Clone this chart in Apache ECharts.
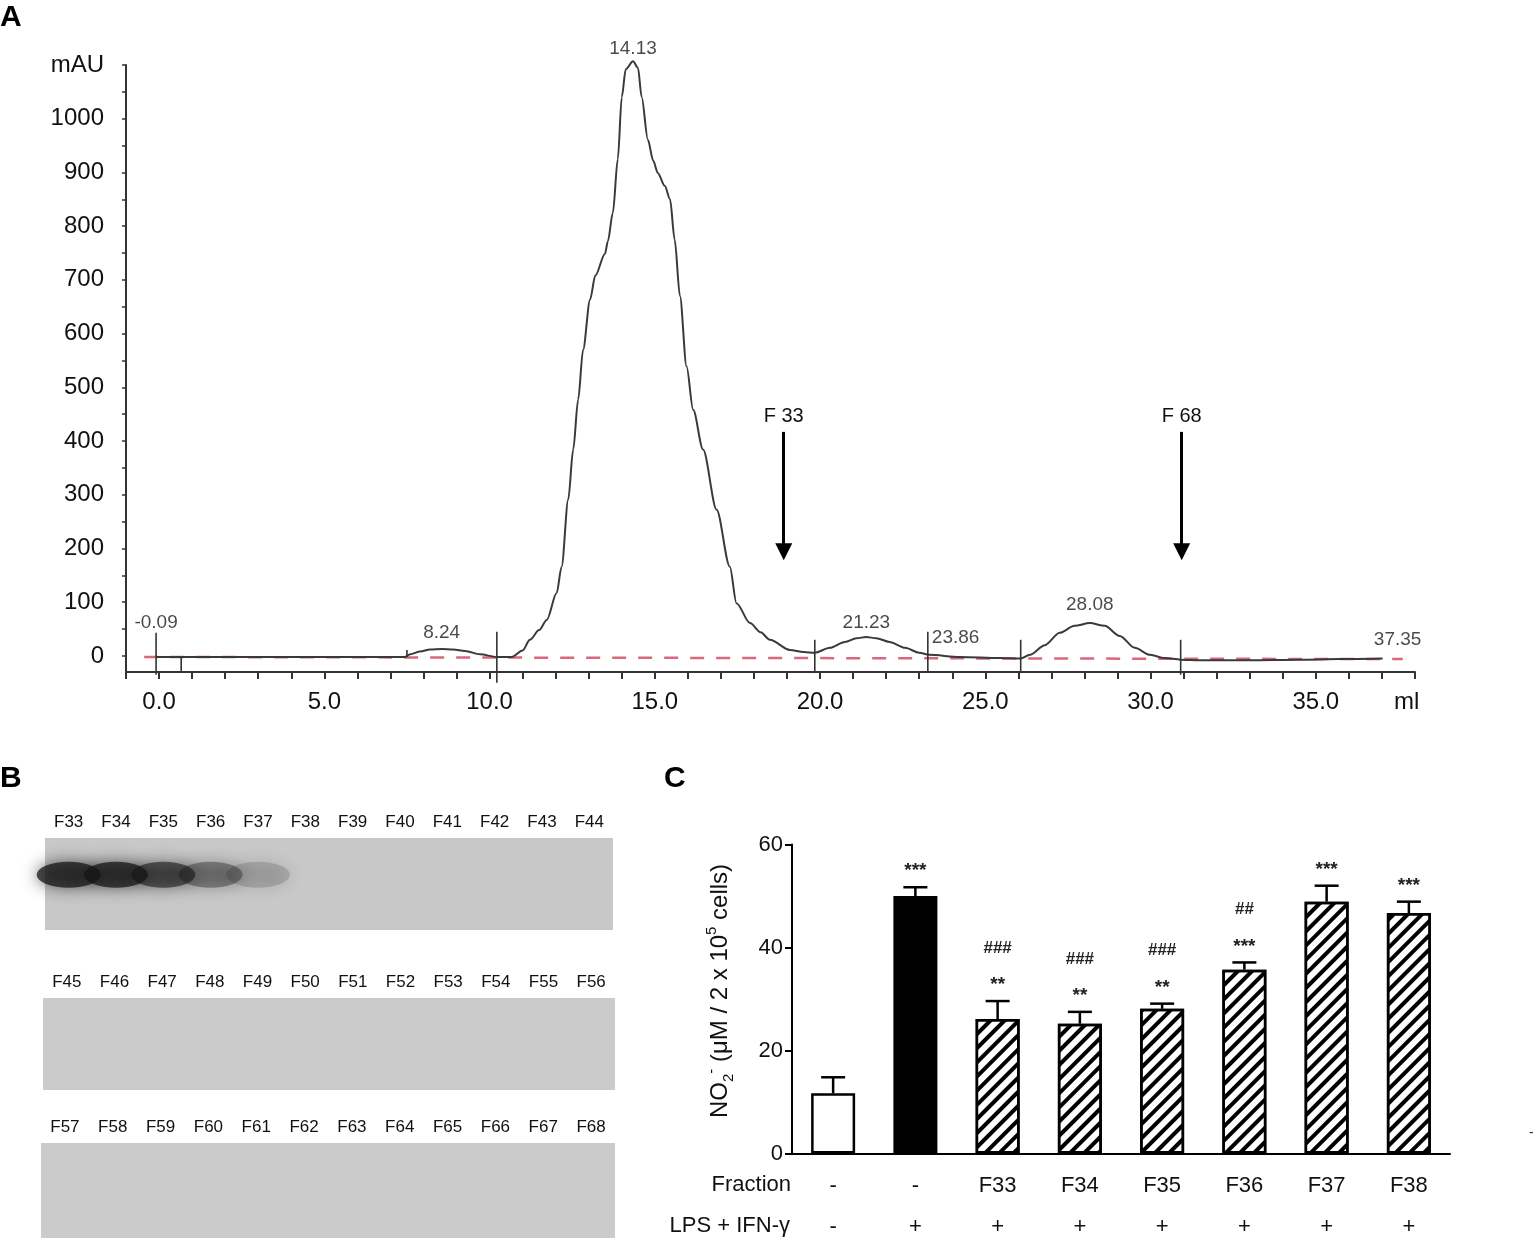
<!DOCTYPE html>
<html>
<head>
<meta charset="utf-8">
<script src="https://cdn.jsdelivr.net/npm/echarts@6/dist/echarts.min.js"></script>
<style>
  html, body { margin: 0; padding: 0; background: #fff; }
  #main { width: 1536px; height: 1244px; }
</style>
</head>
<body>
<div id="main"></div>
<script>
// ---- Panel A: chromatogram (ml vs mAU) ----
const elutionMl = [-0.09, 0.67, 3.0, 5.5, 7.44, 7.6, 7.9, 8.2, 8.55, 8.9, 9.26, 9.71, 10.22, 10.67, 11.0,
  11.22, 11.5, 11.73, 12.03, 12.18, 12.38, 12.53, 12.68, 12.83, 13.04, 13.2, 13.49, 13.58, 13.73, 13.88,
  14.0, 14.12, 14.34, 14.49, 14.6, 14.79, 14.95, 15.09, 15.3, 15.46, 15.6, 15.76, 15.96, 16.16, 16.46,
  16.87, 17.27, 17.47, 17.88, 18.2, 18.48, 19.09, 19.5, 19.84, 20.3, 20.75, 21.1, 21.4, 21.7, 22.1,
  22.57, 23.0, 23.3, 24.23, 25.44, 26.07, 26.35, 26.8, 27.25, 27.7, 28.16, 28.61, 29.07, 29.52, 29.98,
  30.43, 30.91, 31.49, 33.0, 34.5, 35.72, 37.02];
const absorbance = [-2, -2, -2, -2, -2, 3, 8, 12, 13, 12, 9, 3, -2, -2, 10,
  30, 48, 67, 117, 166, 291, 384, 477, 570, 663, 708, 748, 772, 825, 925,
  1040, 1092, 1107, 1095, 1041, 961, 922, 899, 875, 850, 775, 670, 539, 458, 384,
  272, 166, 98, 61, 44, 30, 11, 7, 6, 15, 26, 33, 35, 33, 26,
  15, 6, 2, -2, -4, -5, 2, 20, 43, 56, 61, 56, 37, 15, 2,
  -4, -7, -8, -8, -7, -6, -5];
const baselineMl = [-0.45, 37.63];
const baselineAU = [-2, -6];

// fraction boundary ticks: position, top, bottom (mAU)
const cutMl = [-0.09, 0.67, 7.5, 10.22, 19.84, 23.26, 26.07, 30.91];
const cutTop = [43, -2, 11, 45, 30, 45, 30, 30];
const cutBottom = [-35, -32, -2, -50, -32, -32, -32, -35];

// peak annotations
const peakNames = ['-0.09', '8.24', '14.13', '21.23', '23.86', '28.08', '37.35'];
const peakMl = [-0.09, 8.55, 14.34, 21.4, 23.26, 28.16, 37.02];
const peakAU = [43, 13, 1107, 35, 45, 61, -4];

// collected fraction arrows
const arrowNames = ['F 33', 'F 68'];
const arrowMl = [18.9, 30.94];
const arrowFrom = 417;
const arrowTo = 194;

const yTicksA = [0, 100, 200, 300, 400, 500, 600, 700, 800, 900, 1000, 1100];

// ---- Panel B: blot strips ----
const laneRow1 = ['F33', 'F34', 'F35', 'F36', 'F37', 'F38', 'F39', 'F40', 'F41', 'F42', 'F43', 'F44'];
const laneRow2 = ['F45', 'F46', 'F47', 'F48', 'F49', 'F50', 'F51', 'F52', 'F53', 'F54', 'F55', 'F56'];
const laneRow3 = ['F57', 'F58', 'F59', 'F60', 'F61', 'F62', 'F63', 'F64', 'F65', 'F66', 'F67', 'F68'];
const band1 = [1.0, 1.0, 0.78, 0.45, 0.16, 0, 0, 0, 0, 0, 0, 0];
const band2 = [0, 0, 0, 0, 0, 0, 0, 0, 0, 0, 0, 0];
const band3 = [0, 0, 0, 0, 0, 0, 0, 0, 0, 0, 0, 0];

// ---- Panel C: NO2- production ----
const groups = ['Medium', 'LPS + IFN-γ', 'F33', 'F34', 'F35', 'F36', 'F37', 'F38'];
const fractionRow = ['-', '-', 'F33', 'F34', 'F35', 'F36', 'F37', 'F38'];
const lpsRow = ['-', '+', '+', '+', '+', '+', '+', '+'];
const no2Mean = [11.7, 50.0, 26.1, 25.2, 28.1, 35.7, 48.9, 46.7];
const no2Sem = [3.1, 1.7, 3.5, 2.3, 1.0, 1.4, 3.1, 2.2];
const starMarks = ['', '***', '**', '**', '**', '***', '***', '***'];
const hashMarks = ['', '', '###', '###', '###', '##', '', ''];

const FONT = '"Liberation Sans", Arial, sans-serif';
const chart = echarts.init(document.getElementById('main'));

const peakLabelStyle = [
  { position: 'top', distance: 1 },
  { position: 'top', distance: 7 },
  { position: 'top', distance: 3 },
  { position: 'top', distance: 5 },
  { position: 'right', distance: 4, offset: [0, 6] },
  { position: 'top', distance: 9 },
  { position: 'top', distance: 9, offset: [15, 0] }
];

function bandSeries(idx, bands) {
  return {
    type: 'scatter',
    xAxisIndex: idx, yAxisIndex: idx,
    silent: true,
    symbol: 'circle',
    symbolSize: [64, 26],
    data: bands.map((v, i) => [i, 0.6, v]).filter(d => d[2] > 0),
    itemStyle: {
      color: p => 'rgba(20,20,20,' + (0.06 + 0.86 * p.value[2]) + ')',
      shadowBlur: 16,
      shadowColor: 'rgba(20,20,20,0.85)'
    }
  };
}

const hatch = {
  symbol: 'rect', symbolSize: 1,
  dashArrayX: [1, 0], dashArrayY: [3.2, 6],
  rotation: -Math.PI / 4,
  color: '#000'
};

const option = {
  animation: false,
  backgroundColor: '#fff',
  textStyle: { fontFamily: FONT },
  grid: [
    { left: 126, top: 65, width: 1289, height: 607 },
    { left: 45, top: 838, width: 568, height: 92, show: true, backgroundColor: '#c8c8c8', borderWidth: 0 },
    { left: 43, top: 998, width: 572, height: 92, show: true, backgroundColor: '#cbcbcb', borderWidth: 0 },
    { left: 41, top: 1143, width: 574, height: 95, show: true, backgroundColor: '#cbcbcb', borderWidth: 0 },
    { left: 792, top: 844.5, width: 658, height: 309 }
  ],
  xAxis: [
    {
      type: 'value', gridIndex: 0, min: -1, max: 38, interval: 1,
      axisLine: { onZero: false, lineStyle: { color: '#333', width: 2 } },
      axisTick: { length: 7, lineStyle: { color: '#333', width: 2 } },
      axisLabel: {
        formatter: v => (v >= 0 && v % 5 === 0) ? v.toFixed(1) : '',
        fontSize: 24, color: '#111', margin: 18
      },
      splitLine: { show: false }
    },
    { type: 'category', gridIndex: 1, position: 'top', data: laneRow1,
      axisLine: { show: false }, axisTick: { show: false },
      axisLabel: { fontSize: 17, color: '#111', margin: 7 } },
    { type: 'category', gridIndex: 2, position: 'top', data: laneRow2,
      axisLine: { show: false }, axisTick: { show: false },
      axisLabel: { fontSize: 17, color: '#111', margin: 7 } },
    { type: 'category', gridIndex: 3, position: 'top', data: laneRow3,
      axisLine: { show: false }, axisTick: { show: false },
      axisLabel: { fontSize: 17, color: '#111', margin: 7 } },
    {
      type: 'category', gridIndex: 4, data: groups,
      axisLine: { lineStyle: { color: '#000', width: 2 } },
      axisTick: { alignWithLabel: true, length: 6, lineStyle: { color: '#000', width: 2 } },
      axisLabel: {
        margin: 12, interval: 0,
        formatter: (v, i) => '{a|' + fractionRow[i] + '}\n{b|' + lpsRow[i] + '}',
        rich: {
          a: { fontSize: 22, lineHeight: 41, color: '#111' },
          b: { fontSize: 22, lineHeight: 41, color: '#111' }
        }
      }
    }
  ],
  yAxis: [
    {
      type: 'value', gridIndex: 0, min: -30, max: 1100,
      axisLine: { show: true, onZero: false, lineStyle: { color: '#333', width: 2 } },
      axisTick: { show: true, length: 4, lineStyle: { color: '#333', width: 1.5 },
        customValues: [0, 50, 100, 150, 200, 250, 300, 350, 400, 450, 500, 550, 600, 650, 700, 750, 800, 850, 900, 950, 1000, 1050, 1100] },
      axisLabel: {
        customValues: yTicksA,
        formatter: v => v === 1100 ? 'mAU' : String(v),
        fontSize: 24, color: '#111', margin: 22
      },
      splitLine: { show: false }
    },
    { type: 'value', gridIndex: 1, min: 0, max: 1, show: false },
    { type: 'value', gridIndex: 2, min: 0, max: 1, show: false },
    { type: 'value', gridIndex: 3, min: 0, max: 1, show: false },
    {
      type: 'value', gridIndex: 4, min: 0, max: 60, interval: 20,
      axisLine: { show: true, lineStyle: { color: '#000', width: 2 } },
      axisTick: { show: true, length: 7, lineStyle: { color: '#000', width: 2 } },
      axisLabel: { fontSize: 22, color: '#111', margin: 9 },
      splitLine: { show: false },
      name: 'NO{sub|2}{sup|-} (μM / 2 x 10{sup|5} cells)',
      nameLocation: 'middle', nameRotate: 90, nameGap: 56,
      nameTextStyle: {
        fontSize: 24, color: '#111', lineHeight: 32, padding: [0, 0, 0, 16],
        rich: {
          sub: { fontSize: 15, lineHeight: 15, verticalAlign: 'bottom', color: '#111' },
          sup: { fontSize: 15, lineHeight: 15, verticalAlign: 'top', color: '#111' }
        }
      }
    }
  ],
  series: [
    {
      type: 'line', xAxisIndex: 0, yAxisIndex: 0, z: 2,
      data: baselineMl.map((x, i) => [x, baselineAU[i]]),
      showSymbol: false, silent: true,
      lineStyle: { color: '#d9687c', width: 2.5, type: [14, 12] }
    },
    {
      type: 'line', xAxisIndex: 0, yAxisIndex: 0, z: 3, clip: false,
      data: elutionMl.map((x, i) => [x, absorbance[i]]),
      showSymbol: false, silent: true,
      smooth: 0.3, smoothMonotone: 'x',
      lineStyle: { color: '#3a3a3a', width: 2 },
      markLine: {
        silent: true,
        symbol: ['none', 'triangle'],
        symbolSize: [17, 17],
        lineStyle: { color: '#000', width: 3, type: 'solid' },
        label: { show: true, position: 'start', formatter: '{b}', fontSize: 20, color: '#111', distance: 5 },
        data: arrowNames.map((n, i) => [
          { name: n, coord: [arrowMl[i], arrowFrom] },
          { coord: [arrowMl[i], arrowTo] }
        ])
      }
    },
    {
      type: 'custom', xAxisIndex: 0, yAxisIndex: 0, z: 4, silent: true,
      data: cutMl.map((x, i) => [x, cutTop[i], cutBottom[i]]),
      encode: { x: 0, y: [1, 2] },
      renderItem: (params, api) => {
        const p1 = api.coord([api.value(0), api.value(1)]);
        const p2 = api.coord([api.value(0), api.value(2)]);
        return { type: 'line', shape: { x1: p1[0], y1: p1[1], x2: p2[0], y2: p2[1] },
          style: { stroke: '#333', lineWidth: 1.6 } };
      }
    },
    {
      type: 'scatter', xAxisIndex: 0, yAxisIndex: 0, z: 5, silent: true, clip: false,
      symbolSize: 0,
      data: peakNames.map((n, i) => ({
        name: n, value: [peakMl[i], peakAU[i]],
        label: Object.assign({ show: true, formatter: '{b}', fontSize: 19, color: '#1a1a1a' }, peakLabelStyle[i])
      }))
    },
    bandSeries(1, band1),
    bandSeries(2, band2),
    bandSeries(3, band3),
    {
      type: 'bar', xAxisIndex: 4, yAxisIndex: 4, barWidth: 44, silent: true,
      data: no2Mean.map((v, i) => ({
        value: v,
        itemStyle: i === 0 ? { color: '#fff', borderColor: '#000', borderWidth: 2.5 }
          : i === 1 ? { color: '#000', borderColor: '#000', borderWidth: 2.5 }
          : { color: '#fff', borderColor: '#000', borderWidth: 2.5, decal: hatch }
      }))
    },
    {
      type: 'custom', xAxisIndex: 4, yAxisIndex: 4, z: 5, silent: true,
      data: no2Mean.map((v, i) => [i, v, no2Sem[i]]),
      encode: { x: 0, y: 1 },
      renderItem: (params, api) => {
        const i = api.value(0), v = api.value(1), e = api.value(2);
        const base = api.coord([i, v]);
        const top = api.coord([i, v + e]);
        const k = params.dataIndex;
        return {
          type: 'group',
          children: [
            { type: 'line', shape: { x1: base[0], y1: base[1], x2: top[0], y2: top[1] },
              style: { stroke: '#000', lineWidth: 2.5 } },
            { type: 'line', shape: { x1: top[0] - 12, y1: top[1], x2: top[0] + 12, y2: top[1] },
              style: { stroke: '#000', lineWidth: 2.5 } },
            { type: 'text', style: { text: starMarks[k], x: top[0], y: top[1] - 16,
              align: 'center', verticalAlign: 'middle', font: 'bold 19px ' + FONT, fill: '#222' } },
            { type: 'text', style: { text: hashMarks[k], x: top[0], y: top[1] - 53,
              align: 'center', verticalAlign: 'middle', font: 'bold 17px ' + FONT, fill: '#222' } }
          ]
        };
      }
    }
  ],
  graphic: [
    { type: 'text', left: 0, top: 3, style: { text: 'A', font: 'bold 30px ' + FONT, fill: '#000' } },
    { type: 'text', left: 0, top: 764, style: { text: 'B', font: 'bold 30px ' + FONT, fill: '#000' } },
    { type: 'text', left: 664, top: 764, style: { text: 'C', font: 'bold 30px ' + FONT, fill: '#000' } },
    { type: 'text', left: 1394, top: 690, style: { text: 'ml', font: '24px ' + FONT, fill: '#111' } },
    { type: 'text', right: 1536 - 791, top: 1174, style: { text: 'Fraction', font: '22px ' + FONT, fill: '#111' } },
    { type: 'text', right: 1536 - 790, top: 1215, style: { text: 'LPS + IFN-γ', font: '22px ' + FONT, fill: '#111' } },
    { type: 'text', left: 1529, top: 1126, style: { text: '-', font: '14px ' + FONT, fill: '#333' } }
  ]
};

chart.setOption(option);
window.addEventListener('resize', () => chart.resize());
</script>
</body>
</html>
